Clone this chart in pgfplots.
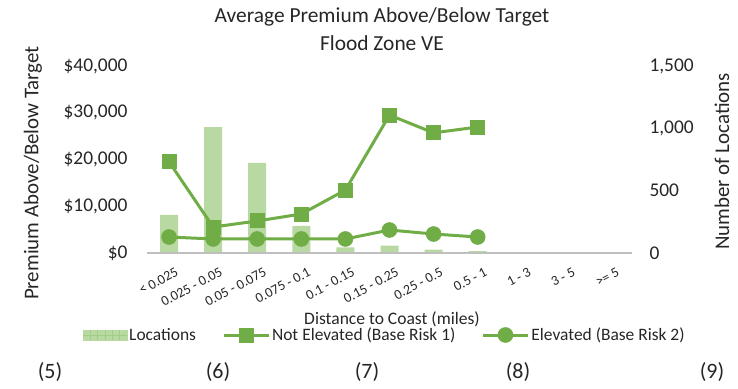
\documentclass[border=0pt]{standalone}
\usepackage{pgfplots}
\pgfplotsset{compat=1.18}
\usepackage{fontspec}
\setmainfont{Carlito}
\definecolor{lgreen}{HTML}{70AD47}
\definecolor{bargreen}{HTML}{B9D9A3}
\definecolor{bargrid}{HTML}{A3CC88}
\definecolor{axgray}{HTML}{BFBFBF}
\definecolor{txt}{HTML}{262626}
\pgfplotsset{
  longline/.style={legend image code/.code={\draw[##1, mark repeat=2, mark phase=2] plot coordinates {(0bp,0bp) (22.5bp,0bp) (45bp,0bp)};}},
  barleg/.style={legend image code/.code={
    \fill[bargreen] (0bp,-5bp) rectangle (44bp,5bp);
    \foreach \i in {7.3,14.6,22,29.3,36.6} {\draw[bargrid, line width=0.5bp] (\i bp,-5bp) -- (\i bp,5bp);}
    \draw[bargrid, line width=0.5bp] (0bp,0bp) -- (44bp,0bp);}},
}
\begin{document}
\begin{tikzpicture}[x=1bp,y=1bp, every node/.style={text=txt}]
\useasboundingbox (0,0) rectangle (738,388);
% secondary axis: bars
\begin{axis}[at={(147bp,135bp)}, anchor=south west, scale only axis,
  width=485bp, height=187bp,
  xmin=-0.5, xmax=10.5, ymin=0, ymax=1500,
  hide x axis,
  axis y line*=right, y axis line style={draw=none},
  ytick={0,500,1000,1500}, major tick length=0pt,
  /pgf/number format/assume math mode=true,
  /pgf/number format/1000 sep={,},
  yticklabel style={font=\fontsize{19.5}{19.5}\selectfont, text=txt, xshift=14bp},
  ]
\addplot[ybar, bar width=18bp, fill=bargreen, draw=none] coordinates {
(0,305) (1,1010) (2,722) (3,218) (4,46) (5,59) (6,27) (7,16)};
\end{axis}
% primary axis: lines
\begin{axis}[at={(147bp,135bp)}, anchor=south west, scale only axis,
  width=485bp, height=187bp,
  xmin=-0.5, xmax=10.5, ymin=0, ymax=40000,
  axis line style={draw=none},
  xtick pos=lower, ytick pos=left,
  scaled y ticks=false,
  extra y ticks={0}, extra y tick labels={},
  extra y tick style={grid=major, major grid style={draw=axgray, line width=1.8bp}},
  xtick={0,...,10},
  xticklabels={{< 0.025},{0.025 - 0.05},{0.05 - 0.075},{0.075 - 0.1},{0.1 - 0.15},{0.15 - 0.25},{0.25 - 0.5},{0.5 - 1},{1 - 3},{3 - 5},{>= 5}},
  x tick label style={font=\fontsize{14}{14}\selectfont, text=txt, anchor=north east, inner sep=0pt, xshift=6bp, yshift=-14bp, rotate=28},
  ytick={0,10000,20000,30000,40000},
  yticklabels={\$0,{\$10,000},{\$20,000},{\$30,000},{\$40,000}},
  yticklabel style={font=\fontsize{19.5}{19.5}\selectfont, text=txt, xshift=-16bp},
  major tick length=0pt,
  legend columns=3,
  legend style={draw=none, fill=none, at={(0.49,-0.4385)}, anchor=center,
    font=\fontsize{17.5}{17.5}\selectfont,
    nodes={inner sep=2bp, text=txt},
    /tikz/every even column/.append style={column sep=24bp},
    inner sep=0pt},
  legend cell align=left,
  ]
\addlegendimage{barleg}
\addlegendentry{Locations}
\addplot[lgreen, line width=3bp, mark=square*, mark size=6bp, mark options={solid}, longline]
coordinates {(0,19500) (1,5560) (2,6850) (3,8340) (4,13470) (5,29500) (6,25700) (7,26950)};
\addlegendentry{Not Elevated (Base Risk 1)}
\addplot[lgreen, line width=3bp, mark=*, mark size=6.3bp, mark options={solid}, longline]
coordinates {(0,3420) (1,3000) (2,3000) (3,3000) (4,3000) (5,4920) (6,4060) (7,3420)};
\addlegendentry{Elevated (Base Risk 2)}
\end{axis}
\node[font=\fontsize{21.5}{21.5}\selectfont] at (382,371) {Average Premium Above/Below Target};
\node[font=\fontsize{21.5}{21.5}\selectfont] at (382,345) {Flood Zone VE};
\node[font=\fontsize{17.6}{17.6}\selectfont] at (392,69) {Distance to Coast (miles)};
\node[font=\fontsize{21}{21}\selectfont, rotate=90] at (33,215) {Premium Above/Below Target};
\node[font=\fontsize{21}{21}\selectfont, rotate=90] at (722,226.5) {Number of Locations};
\node[font=\fontsize{22}{22}\selectfont] at (50,16) {(5)};
\node[font=\fontsize{22}{22}\selectfont] at (218,16) {(6)};
\node[font=\fontsize{22}{22}\selectfont] at (367,16) {(7)};
\node[font=\fontsize{22}{22}\selectfont] at (518,16) {(8)};
\node[font=\fontsize{22}{22}\selectfont] at (712,16) {(9)};
\end{tikzpicture}
\end{document}
